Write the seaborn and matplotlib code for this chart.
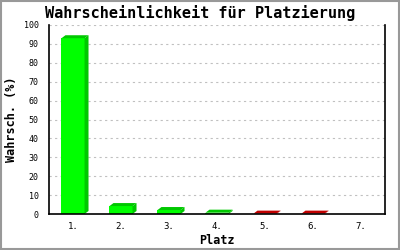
import matplotlib
matplotlib.use("Agg")
import matplotlib.pyplot as plt
import seaborn as sns
import pandas as pd
from matplotlib.patches import Polygon, Rectangle

places = ["1.", "2.", "3.", "4.", "5.", "6.", "7."]
probs = [93.0, 4.2, 2.1, 0.7, 0.2, 0.2, 0.0]
front_colors = ["#00ff00", "#00ff00", "#00ff00", "#00ff00", "#dd0000", "#dd0000", "#dd0000"]
side_colors = ["#00c800", "#00c800", "#00c800", "#00c800", "#c00000", "#c00000", "#c00000"]
yticks = [0, 10, 20, 30, 40, 50, 60, 70, 80, 90, 100]

sns.set_style("white")
plt.rcParams["font.family"] = ["DejaVu Sans Mono"]
plt.rcParams["text.color"] = "black"
plt.rcParams["axes.labelcolor"] = "black"
plt.rcParams["xtick.color"] = "black"
plt.rcParams["ytick.color"] = "black"

df = pd.DataFrame({"Platz": places, "p": probs})

fig = plt.figure(figsize=(4, 2.5), dpi=100)
ax = fig.add_axes([49/400, 36/250, 336/400, 189/250])
sns.barplot(data=df, x="Platz", y="p", hue="Platz", palette=front_colors,
            width=0.48, legend=False, ax=ax, saturation=1, linewidth=0)
ax.set_xlim(-0.5, 6.5)
ax.set_ylim(0, 100)

# pseudo 3D depth (pixels converted to data units)
ax_w_px = 336
ax_h_px = 189
dx = 4 * 7.0 / ax_w_px
dy = 3 * 100.0 / ax_h_px
for patch, v, sc in zip(ax.patches, probs, side_colors):
    if v <= 0:
        continue
    x0 = patch.get_x()
    w = patch.get_width()
    h = patch.get_height()
    top = Polygon([[x0, h], [x0 + dx, h + dy], [x0 + w + dx, h + dy], [x0 + w, h]],
                  closed=True, facecolor=sc, edgecolor="none", zorder=patch.get_zorder())
    side = Polygon([[x0 + w, 0], [x0 + w, h], [x0 + w + dx, h + dy], [x0 + w + dx, dy]],
                   closed=True, facecolor=sc, edgecolor="none", zorder=patch.get_zorder())
    ax.add_patch(top)
    ax.add_patch(side)

ax.set_yticks(yticks)
ax.set_yticklabels([str(t) for t in yticks], fontsize=6)
ax.tick_params(axis="y", direction="inout", length=7, width=1, color="black", pad=4)
ax.tick_params(axis="x", length=0, labelsize=6.5, pad=6)
for t in yticks[1:]:
    ax.axhline(t, color="#c0c0c0", lw=0.8, ls=(0, (2, 3)), zorder=0)

for s in ["left", "bottom", "right"]:
    ax.spines[s].set_visible(True)
    ax.spines[s].set_color("black")
    ax.spines[s].set_linewidth(1.2)
ax.spines["top"].set_visible(False)

ax.set_xlabel("Platz", fontsize=8.5, fontweight="bold", labelpad=2)
ax.set_ylabel("Wahrsch. (%)", fontsize=8.5, fontweight="bold", labelpad=4)
fig.text(0.5, 1 - 13/250, "Wahrscheinlichkeit für Platzierung", ha="center", va="center",
         fontsize=11, fontweight="bold")

fig.patches.append(Rectangle((0.0025, 0.004), 0.995, 0.992, transform=fig.transFigure,
                             fill=False, edgecolor="#999999", lw=1.5))

fig.savefig("out.png", dpi=100)
